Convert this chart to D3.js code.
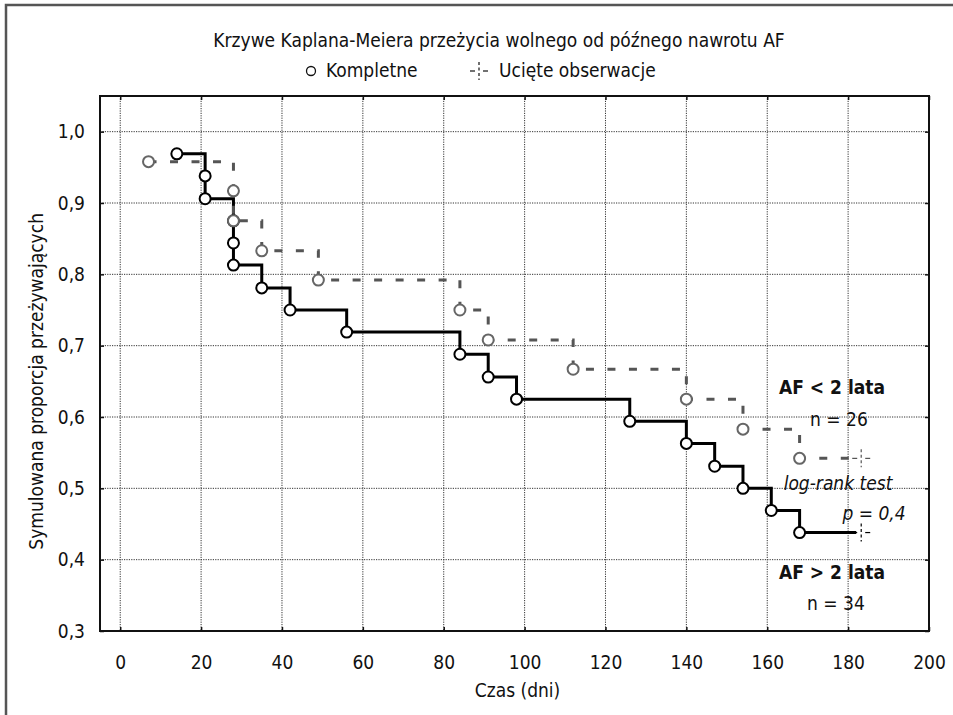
<!DOCTYPE html>
<html>
<head>
<meta charset="utf-8">
<script src="https://cdn.jsdelivr.net/npm/d3@7"></script>
<style>
  body { margin: 0; background: #fff; }
  svg text { font-family: "Liberation Sans Narrow", "DejaVu Sans Condensed", sans-serif; fill: #111; }
</style>
</head>
<body>
<div id="chart"></div>
<script>
// AF > 2 lata - solid black curve (event times in days, survival after each event)
const timesLong = [14, 21, 21, 28, 28, 28, 35, 42, 56, 84, 91, 98, 126, 140, 147, 154, 161, 168];
const survLong = [0.969, 0.938, 0.906, 0.875, 0.844, 0.813, 0.781, 0.750, 0.719, 0.688, 0.656, 0.625, 0.594, 0.563, 0.531, 0.500, 0.469, 0.438];
const censorLong = 182;

// AF < 2 lata - dashed grey curve
const timesShort = [7, 28, 28, 35, 49, 84, 91, 112, 140, 154, 168];
const survShort = [0.958, 0.917, 0.875, 0.833, 0.792, 0.750, 0.708, 0.667, 0.625, 0.583, 0.542];
const censorShort = 182;

const xTicks = [0, 20, 40, 60, 80, 100, 120, 140, 160, 180, 200];
const yTicks = [0.3, 0.4, 0.5, 0.6, 0.7, 0.8, 0.9, 1.0];

const titleText = 'Krzywe Kaplana-Meiera przeżycia wolnego od późnego nawrotu AF';
const xLabel = 'Czas (dni)';
const yLabel = 'Symulowana proporcja przeżywających';

let W = 953, H = 715;
let margin = { left: 100, right: 929, top: 96, bottom: 631 };

let svg = d3.select('#chart').append('svg')
    .attr('width', W)
    .attr('height', H);

// outer border (only top / left visible)
svg.append('rect')
    .attr('x', 6).attr('y', 5)
    .attr('width', 1200).attr('height', 1200)
    .attr('fill', 'none')
    .attr('stroke', '#555')
    .attr('stroke-width', 2.5);

let x = d3.scaleLinear().domain([-5, 200]).range([margin.left, margin.right]);
let y = d3.scaleLinear().domain([0.3, 1.05]).range([margin.bottom, margin.top]);

let fmt = d => d3.format('.1f')(d).replace('.', ',');

// grid
svg.append('g').selectAll('line')
  .data(xTicks.filter(d => d < 200))
  .join('line')
    .attr('x1', d => x(d)).attr('x2', d => x(d))
    .attr('y1', margin.top).attr('y2', margin.bottom)
    .attr('stroke', '#333')
    .attr('stroke-width', 1)
    .attr('stroke-dasharray', '1.2,1.2');

svg.append('g').selectAll('line')
  .data(yTicks.filter(d => d > 0.3))
  .join('line')
    .attr('x1', margin.left).attr('x2', margin.right)
    .attr('y1', d => y(d)).attr('y2', d => y(d))
    .attr('stroke', '#333')
    .attr('stroke-width', 1)
    .attr('stroke-dasharray', '1.2,1.2');

// axes with inward ticks
svg.append('g')
    .attr('transform', 'translate(0,' + margin.bottom + ')')
    .call(d3.axisBottom(x).tickValues(xTicks).tickSize(-4).tickPadding(25).tickFormat(d3.format('d')));
svg.append('g')
    .attr('transform', 'translate(' + margin.left + ',0)')
    .call(d3.axisLeft(y).tickValues(yTicks).tickSize(-4).tickPadding(15).tickFormat(fmt));
svg.append('g')
    .attr('transform', 'translate(0,' + margin.top + ')')
    .call(d3.axisTop(x).tickValues(xTicks).tickSize(-4).tickFormat(''));
svg.append('g')
    .attr('transform', 'translate(' + margin.right + ',0)')
    .call(d3.axisRight(y).tickValues(yTicks).tickSize(-4).tickFormat(''));

svg.selectAll('.domain').remove();
svg.selectAll('.tick line').attr('stroke', '#111').attr('stroke-width', 1.5);
svg.selectAll('.tick text').style('font-size', '19px').attr('fill', '#111');

// plot frame
svg.append('rect')
    .attr('x', margin.left).attr('y', margin.top)
    .attr('width', margin.right - margin.left).attr('height', margin.bottom - margin.top)
    .attr('fill', 'none')
    .attr('stroke', '#111')
    .attr('stroke-width', 2);

let stepLine = d3.line()
    .x(d => x(d[0]))
    .y(d => y(d[1]))
    .curve(d3.curveStepAfter);

function drawCensor(g, cx, cy, color) {
  let m = g.append('g')
      .attr('transform', 'translate(' + cx + ',' + cy + ')')
      .attr('stroke', color)
      .attr('stroke-width', 1.2);
  m.append('line').attr('x1', -9).attr('x2', -4).attr('y1', 0).attr('y2', 0);
  m.append('line').attr('x1', 4).attr('x2', 9).attr('y1', 0).attr('y2', 0);
  m.append('line').attr('x1', 0).attr('x2', 0).attr('y1', -9).attr('y2', 9)
      .attr('stroke-dasharray', '3,2.5');
}

function drawCurve(times, surv, censor, opts) {
  let pts = times.map((t, i) => [t, surv[i]]);
  pts.push([censor, surv[surv.length - 1]]);
  let g = svg.append('g');
  g.append('path')
      .datum(pts)
      .attr('fill', 'none')
      .attr('stroke', opts.color)
      .attr('stroke-width', opts.width)
      .attr('stroke-dasharray', opts.dash)
      .attr('d', stepLine);
  drawCensor(g, x(censor) + 5, y(surv[surv.length - 1]), opts.color);
  return g;
}

let gLong = drawCurve(timesLong, survLong, censorLong, { color: '#000', width: 3, dash: null });
let gShort = drawCurve(timesShort, survShort, censorShort, { color: '#555', width: 3, dash: '8,13.5' });

gLong.selectAll('circle')
  .data(timesLong.map((t, i) => [t, survLong[i]]))
  .join('circle')
    .attr('cx', d => x(d[0])).attr('cy', d => y(d[1]))
    .attr('r', 5.5)
    .attr('fill', '#fff')
    .attr('stroke', '#000')
    .attr('stroke-width', 2);

svg.append('g').selectAll('circle')
  .data(timesShort.map((t, i) => [t, survShort[i]]))
  .join('circle')
    .attr('cx', d => x(d[0])).attr('cy', d => y(d[1]))
    .attr('r', 5.5)
    .attr('fill', '#fff')
    .attr('stroke', '#666')
    .attr('stroke-width', 2);

// title and legend
svg.append('text')
    .attr('x', 499).attr('y', 47)
    .attr('text-anchor', 'middle')
    .style('font-size', '19px')
    .text(titleText);

svg.append('circle')
    .attr('cx', 311).attr('cy', 71)
    .attr('r', 4.5)
    .attr('fill', 'none')
    .attr('stroke', '#111')
    .attr('stroke-width', 1.3);
svg.append('text')
    .attr('x', 326).attr('y', 77)
    .style('font-size', '19px')
    .text('Kompletne');
drawCensor(svg, 479, 71, '#111');
svg.append('text')
    .attr('x', 499).attr('y', 77)
    .style('font-size', '19px')
    .text('Ucięte obserwacje');

// axis titles
svg.append('text')
    .attr('x', (margin.left + margin.right) / 2 + 3).attr('y', 697)
    .attr('text-anchor', 'middle')
    .style('font-size', '19px')
    .text(xLabel);
svg.append('text')
    .attr('transform', 'translate(43,' + y(0.65) + ') rotate(-90)')
    .attr('text-anchor', 'middle')
    .style('font-size', '19px')
    .text(yLabel);

// annotations
let notes = [
  { text: 'AF < 2 lata', x: 832, y: 394, weight: 'bold', style: 'normal' },
  { text: 'n = 26', x: 839, y: 426, weight: 'normal', style: 'normal' },
  { text: 'log-rank test', x: 838, y: 490, weight: 'normal', style: 'italic' },
  { text: 'p = 0,4', x: 874, y: 520, weight: 'normal', style: 'italic' },
  { text: 'AF > 2 lata', x: 832, y: 579, weight: 'bold', style: 'normal' },
  { text: 'n = 34', x: 836, y: 610, weight: 'normal', style: 'normal' }
];
svg.append('g').selectAll('text')
  .data(notes)
  .join('text')
    .attr('x', d => d.x).attr('y', d => d.y)
    .attr('text-anchor', 'middle')
    .style('font-size', '19px')
    .style('font-weight', d => d.weight)
    .style('font-style', d => d.style)
    .text(d => d.text);
</script>
</body>
</html>
